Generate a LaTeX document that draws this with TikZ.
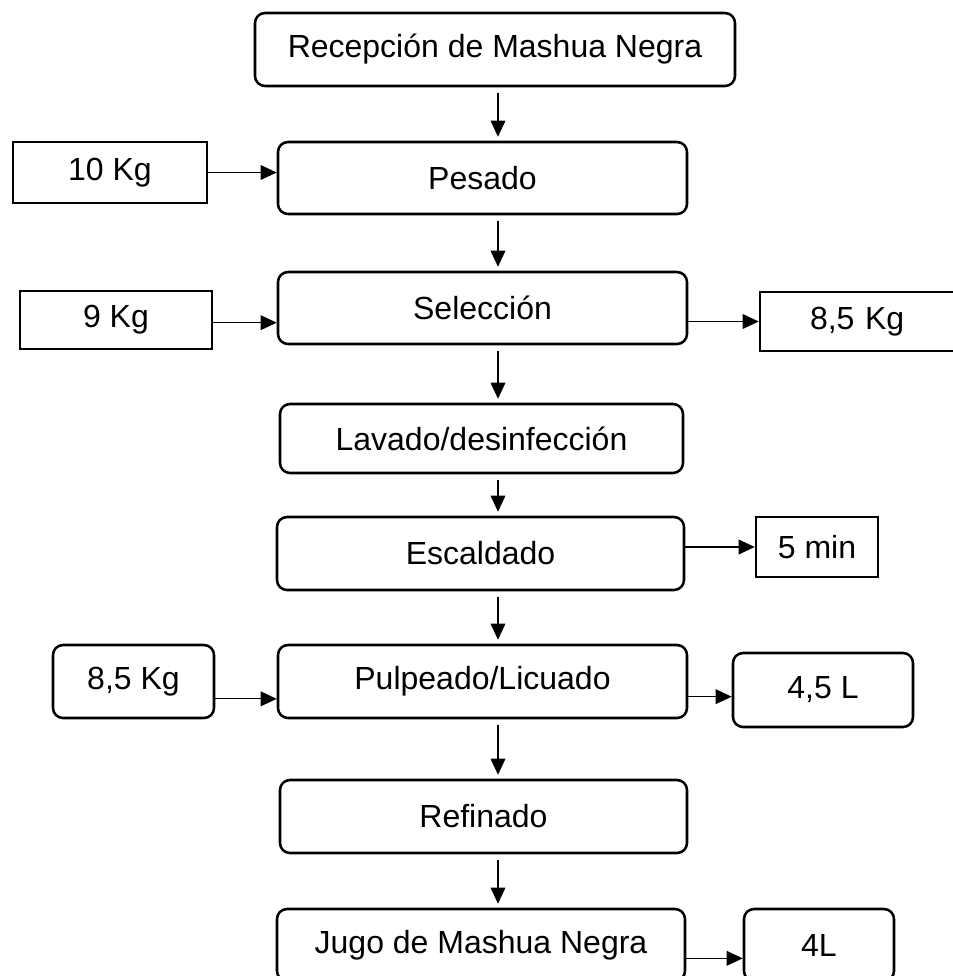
\documentclass[tikz,border=0pt]{standalone}
\usepackage{fontspec}
\setmainfont{Liberation Sans}
\usetikzlibrary{arrows.meta}

\begin{document}
\begin{tikzpicture}[x=0.75pt, y=-0.75pt,
  proc/.style={draw=black, line width=1.9pt, rounded corners=7.5pt, inner sep=0pt,
    font=\fontsize{24}{28}\selectfont},
  qty/.style={draw=black, line width=1.9pt, inner sep=0pt,
    font=\fontsize{24}{28}\selectfont},
  flow/.style={line width=0.8pt, -{Triangle[length=12pt, width=11pt]}}]
\clip (0,0) rectangle (953,976);
\useasboundingbox (0,0) rectangle (953,976);
\coordinate (spine) at (498,0);
\node[proc, minimum width=360pt, minimum height=54.75pt] (recep) at (495,49.5) {Recepción de Mashua Negra};
\node[proc, minimum width=306.75pt, minimum height=54pt] (pesado) at (482.5,178) {Pesado};
\node[qty, minimum width=145.5pt, minimum height=45.75pt] (kg10) at (110,172.5) {10 Kg};
\node[proc, minimum width=306.75pt, minimum height=54pt] (selec) at (482.5,308) {Selección};
\node[qty, minimum width=144pt, minimum height=43.5pt] (kg9) at (116,320) {9 Kg};
\node[qty, minimum width=150pt, minimum height=44.25pt, text width=143pt, align=left] (kgout) at (860,321.5) {\hspace*{34pt}8,5 Kg};
\node[proc, minimum width=302.25pt, minimum height=51.75pt] (lavado) at (481.5,438.5) {Lavado/desinfección};
\node[proc, minimum width=305.25pt, minimum height=54.75pt] (escal) at (480.5,553.5) {Escaldado};
\node[qty, minimum width=91.5pt, minimum height=45pt] (min5) at (817,547) {5 min};
\node[proc, minimum width=306.75pt, minimum height=54.75pt] (pulp) at (482.5,681.5) {Pulpeado/Licuado};
\node[proc, minimum width=120.75pt, minimum height=54.75pt] (kgin) at (133.5,681.5) {8,5 Kg};
\node[proc, minimum width=135pt, minimum height=55.5pt] (l45) at (823,690) {4,5 L};
\node[proc, minimum width=305.25pt, minimum height=54.75pt] (refin) at (483.5,816.5) {Refinado};
\node[proc, minimum width=306pt, minimum height=54pt] (jugo) at (481,945) {Jugo de Mashua Negra};
\node[proc, minimum width=112.5pt, minimum height=54pt] (l4) at (819,945) {4L};
% main line
\draw[flow, shorten <=4pt, shorten >=3pt] (recep.south -| spine) -- (pesado.north -| spine);
\draw[flow, shorten <=4pt, shorten >=3pt] (pesado.south -| spine) -- (selec.north -| spine);
\draw[flow, shorten <=4pt, shorten >=3pt] (selec.south -| spine) -- (lavado.north -| spine);
\draw[flow, shorten <=4pt, shorten >=3pt] (lavado.south -| spine) -- (escal.north -| spine);
\draw[flow, shorten <=4pt, shorten >=3pt] (escal.south -| spine) -- (pulp.north -| spine);
\draw[flow, shorten <=4pt, shorten >=3pt] (pulp.south -| spine) -- (refin.north -| spine);
\draw[flow, shorten <=4pt, shorten >=3pt] (refin.south -| spine) -- (jugo.north -| spine);
% side flows
\draw[flow] (kg10.east) -- (kg10.east -| pesado.west);
\draw[flow] ([yshift=-2pt]kg9.east) -- ([yshift=-2pt]kg9.east -| selec.west);
\draw[flow] (selec.east |- kgout.west) -- (kgout.west);
\draw[flow] (escal.east |- min5.west) -- (min5.west);
\draw[flow] ([yshift=-13pt]kgin.east) -- ([yshift=-13pt]kgin.east -| pulp.west);
\draw[flow] ([yshift=-5pt]l45.west -| pulp.east) -- ([yshift=-5pt]l45.west);
\draw[flow] ([yshift=-10pt]l4.west -| jugo.east) -- ([yshift=-10pt]l4.west);
\end{tikzpicture}
\end{document}
